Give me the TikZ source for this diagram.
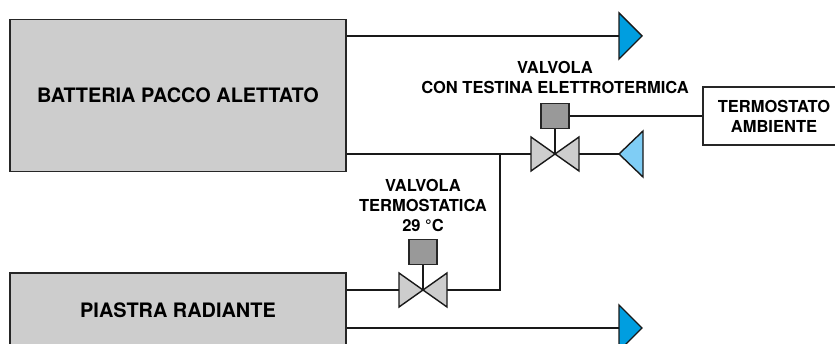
\documentclass[tikz,border=0pt]{standalone}
\usepackage{fontspec}
\setmainfont{TeX Gyre Heros}
\definecolor{boxgray}{HTML}{CDCDCD}
\definecolor{headgray}{HTML}{999999}
\definecolor{darkblue}{HTML}{009EE0}
\definecolor{lightblue}{HTML}{7FCDF5}
\tikzset{
	pipe/.style={line width=1.4pt,black!90},
	unit/.style={draw=black!85,line width=1.3pt,fill=boxgray,inner sep=0pt,font=\fontsize{19.9}{20}\selectfont\bfseries},
	label/.style={align=center,inner sep=0pt,font=\fontsize{16.5}{20}\selectfont\bfseries},
	head/.style={draw=black!85,line width=1.4pt,fill=headgray,minimum width=28pt,minimum height=25pt,inner sep=0pt},
	valvebody/.style={draw=black!90,line width=1.4pt,fill=boxgray,line join=miter},
}
\begin{document}
\begin{tikzpicture}[x=1pt,y=-1pt]
	\path[use as bounding box,clip] (0,0) rectangle (835,344);
	\node[unit,minimum width=336pt,minimum height=152pt] (batteria) at (178,95.5) {BATTERIA PACCO ALETTATO};
	\node[unit,minimum width=336pt,minimum height=74pt] (piastra) at (178,310) {PIASTRA RADIANTE};
	\node[draw=black!85,line width=1.3pt,fill=white,minimum width=142pt,minimum height=58pt,inner sep=0pt,label] (termostato) at (774,116) {TERMOSTATO\\AMBIENTE};
	% valves
	\coordinate (valveA) at (555,154);
	\coordinate (valveB) at (423,290);
	\node[head] (headA) at (555,116) {};
	\node[head] (headB) at (423,252) {};
	\coordinate (junction) at (500,154);
	\coordinate (bend) at (500,290);
	\coordinate (outA) at (619,36);
	\coordinate (outB) at (619,154);
	\coordinate (outC) at (619,328);
	% pipes
	\draw[pipe] (batteria.east |- outA) -- (outA);
	\draw[pipe] (batteria.east |- valveA) -- (valveA) -- (outB);
	\draw[pipe] (junction) -- (bend) -- (valveB);
	\draw[pipe] (piastra.east |- valveB) -- (valveB);
	\draw[pipe] (piastra.east |- outC) -- (outC);
	\draw[pipe] (headA.east) -- (termostato.west |- headA.east);
	% valve bodies
	\foreach \v in {valveA,valveB} {
		\draw[valvebody,shift={(\v)}] (0,0) -- (-24,-17) -- (-24,17) -- cycle;
		\draw[valvebody,shift={(\v)}] (0,0) -- (24,-17) -- (24,17) -- cycle;
	}
	\draw[pipe] (headA) -- (valveA);
	\draw[pipe] (headB) -- (valveB);
	% terminals
	\draw[valvebody,fill=darkblue,shift={(outA)}] (0,-23) -- (23,0) -- (0,23) -- cycle;
	\draw[valvebody,fill=darkblue,shift={(outC)}] (0,-23) -- (23,0) -- (0,23) -- cycle;
	\draw[valvebody,fill=lightblue,shift={(outB)}] (24,-23) -- (0,0) -- (24,23) -- cycle;
	% labels
	\node[label] (labelA) at (555,77) {VALVOLA\\CON TESTINA ELETTROTERMICA};
	\node[label] (labelB) at (423,205) {VALVOLA\\TERMOSTATICA\\29 °C};
\end{tikzpicture}
\end{document}
